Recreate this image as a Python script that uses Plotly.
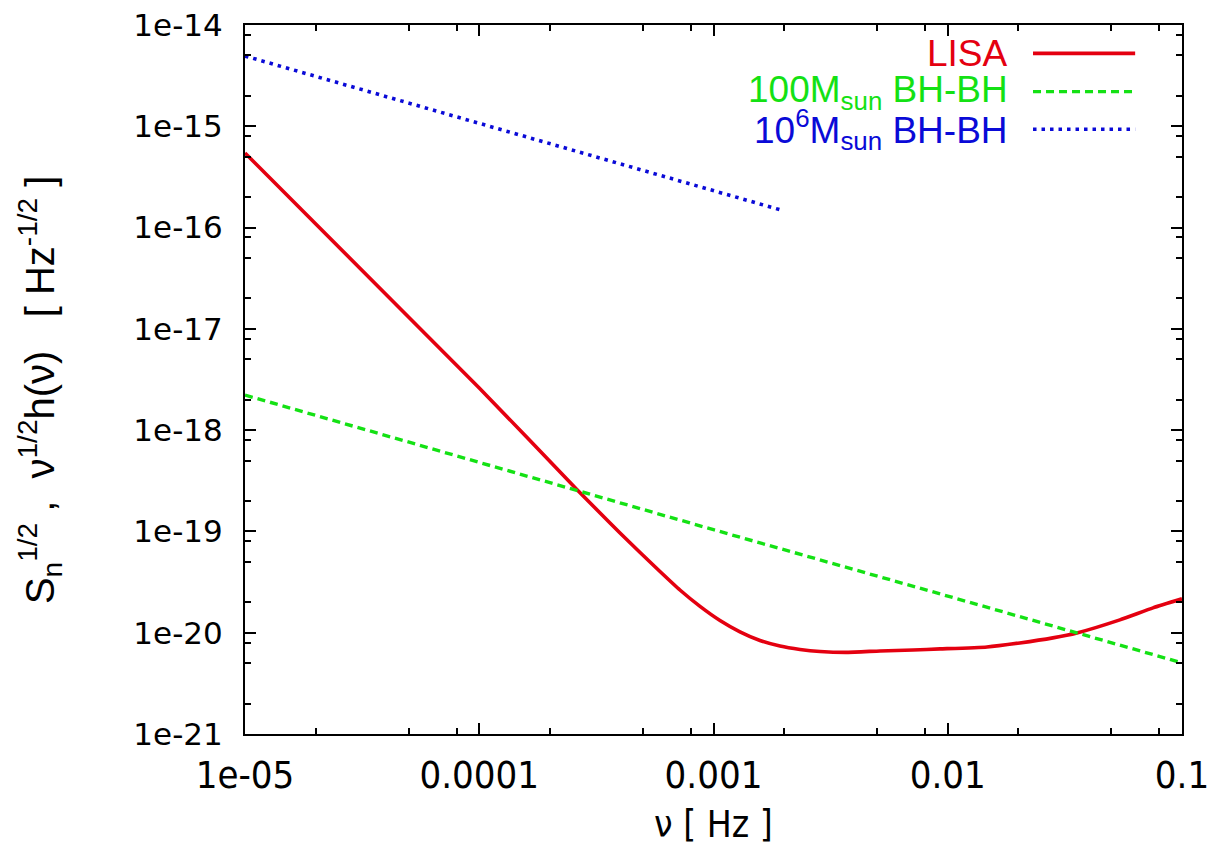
import plotly.graph_objects as go

# ---- data ----
lisa_freq = [1e-5, 1.0e-4, 2.61e-4, 3.28e-4, 3.99e-4, 4.86e-4, 5.91e-4, 7.19e-4,
             8.76e-4, 1.066e-3, 1.297e-3, 1.579e-3, 1.922e-3, 2.34e-3, 2.85e-3,
             3.72e-3, 5.14e-3, 7.11e-3, 9.27e-3, 1.47e-2, 2.03e-2, 2.81e-2,
             3.56e-2, 5.43e-2, 7.52e-2, 0.1]
lisa_amp = [5.45e-16, 2.61e-18, 2.6e-19, 1.52e-19, 9.66e-20, 6.20e-20, 4.02e-20, 2.64e-20,
            1.82e-20, 1.32e-20, 1.02e-20, 8.38e-21, 7.38e-21, 6.84e-21, 6.53e-21,
            6.40e-21, 6.61e-21, 6.76e-21, 6.92e-21, 7.24e-21, 7.93e-21, 8.89e-21,
            9.95e-21, 1.34e-20, 1.76e-20, 2.16e-20]

bh100_freq = [1e-5, 1e-4, 1e-3, 1e-2, 0.1]
bh100_amp = [2.22e-18, 4.8e-19, 1.04e-19, 2.3e-20, 5.04e-21]

bh1e6_freq = [1e-5, 1e-4, 1e-3, 2.0e-3]
bh1e6_amp = [4.94e-15, 1.07e-15, 2.3e-16, 1.46e-16]

x_tickvals = [1e-5, 1e-4, 1e-3, 1e-2, 1e-1]
x_ticktext = ["1e-05", "0.0001", "0.001", "0.01", "0.1"]
y_tickvals = [1e-21, 1e-20, 1e-19, 1e-18, 1e-17, 1e-16, 1e-15, 1e-14]
y_ticktext = ["1e-21", "1e-20", "1e-19", "1e-18", "1e-17", "1e-16", "1e-15", "1e-14"]

RED = "rgb(228,0,16)"
GREEN = "rgb(20,225,20)"
BLUE = "rgb(10,10,215)"

fig = go.Figure()
fig.add_trace(go.Scatter(x=lisa_freq, y=lisa_amp, mode="lines",
                         line=dict(color=RED, width=3.6, shape="spline", smoothing=0.5)))
fig.add_trace(go.Scatter(x=bh100_freq, y=bh100_amp, mode="lines",
                         line=dict(color=GREEN, width=3.4, dash="8px,5px")))
fig.add_trace(go.Scatter(x=bh1e6_freq, y=bh1e6_amp, mode="lines",
                         line=dict(color=BLUE, width=3.6, dash="3.5px,5px")))

minor_x = []
for d in [1e-5, 1e-4, 1e-3, 1e-2]:
    minor_x += [2 * d, 5 * d, 8 * d]
minor_y = []
for d in [1e-21, 1e-20, 1e-19, 1e-18, 1e-17, 1e-16, 1e-15]:
    minor_y += [2 * d, 5 * d, 8 * d]

NARROW = "Liberation Sans Narrow, DejaVu Sans Condensed, Liberation Sans"

fig.update_layout(
    width=1210, height=849,
    margin=dict(l=245, r=28, t=25, b=115),
    paper_bgcolor="white", plot_bgcolor="white",
    showlegend=False,
    xaxis=dict(type="log", range=[-5, -1], showgrid=False, zeroline=False, automargin=False,
               showline=True, linecolor="black", linewidth=2, mirror="ticks",
               ticks="inside", ticklen=11, tickwidth=1.5, tickcolor="black",
               tickvals=x_tickvals, ticktext=x_ticktext,
               tickfont=dict(family=NARROW, size=38, color="black"),
               ticklabelstandoff=6,
               minor=dict(tickvals=minor_x, ticks="inside", ticklen=6, tickwidth=1.5, tickcolor="black")),
    yaxis=dict(type="log", range=[-21, -14], showgrid=False, zeroline=False, automargin=False,
               showline=True, linecolor="black", linewidth=2, mirror="ticks",
               ticks="inside", ticklen=11, tickwidth=1.5, tickcolor="black",
               tickvals=y_tickvals, ticktext=y_ticktext,
               tickfont=dict(family="DejaVu Sans", size=31, color="black"),
               ticklabelstandoff=14,
               minor=dict(tickvals=minor_y, ticks="inside", ticklen=6, tickwidth=1.5, tickcolor="black")),
)

LF = "Liberation Sans, Arial, sans-serif"
# legend text (right aligned) and samples
leg_rows = [
    ("LISA", RED, 0.960, dict(dash="solid", width=3.6)),
    ("100M<sub>sun</sub> BH-BH", GREEN, 0.906, dict(dash="8px,5px", width=3.4)),
    ("10<sup>6</sup>M<sub>sun</sub> BH-BH", BLUE, 0.853, dict(dash="3.5px,5px", width=3.6)),
]
for txt, col, yy, ls in leg_rows:
    fig.add_annotation(x=0.8164, y=yy, xref="paper", yref="paper", text=txt,
                       showarrow=False, xanchor="right", yanchor="middle",
                       font=dict(family=LF, size=37, color=col))
    fig.add_shape(type="line", xref="paper", yref="paper", x0=0.841, x1=0.950,
                  y0=yy, y1=yy, line=dict(color=col, **ls))

# axis titles
fig.add_annotation(x=-0.2188, y=0.485, xref="paper", yref="paper",
                   text="S<sub>n</sub><sup>1/2</sup>\u00a0,\u00a0\u00a0ν<sup>1/2</sup>h(ν)\u00a0\u00a0\u00a0[ Hz<sup>-1/2</sup> ]",
                   textangle=-90, showarrow=False, xanchor="center", yanchor="middle",
                   font=dict(family=LF, size=40, color="black"))
fig.add_annotation(x=0.5, y=-0.128, xref="paper", yref="paper", text="ν [ Hz ]",
                   showarrow=False, xanchor="center", yanchor="middle",
                   font=dict(family=NARROW, size=37, color="black"))

fig.write_html("out.html", config={"displayModeBar": False},
               post_script="document.body.style.margin='0';document.body.style.padding='0';")
